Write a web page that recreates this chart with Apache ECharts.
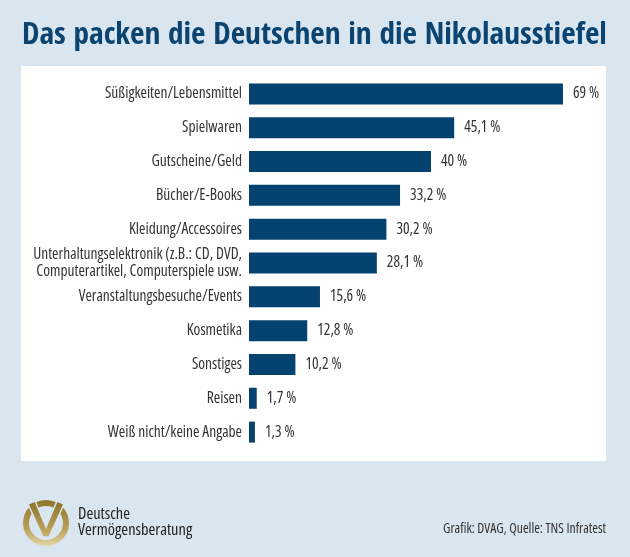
<!DOCTYPE html>
<html>
<head>
<meta charset="utf-8">
<style>html,body{margin:0;padding:0;background:#d9e6f0}#main{width:630px;height:557px}</style>
<script src="https://cdn.jsdelivr.net/npm/echarts@6/dist/echarts.min.js"></script>
</head>
<body>
<div id="main"></div>
<script>
var categories = ['Süßigkeiten/Lebensmittel', 'Spielwaren', 'Gutscheine/Geld', 'Bücher/E-Books', 'Kleidung/Accessoires',
  'Unterhaltungselektronik (z.B.: CD, DVD,\nComputerartikel, Computerspiele usw.', 'Veranstaltungsbesuche/Events',
  'Kosmetika', 'Sonstiges', 'Reisen', 'Weiß nicht/keine Angabe'];
var values = [69, 45.1, 40, 33.2, 30.2, 28.1, 15.6, 12.8, 10.2, 1.7, 1.3];

var sans = '"Open Sans", sans-serif';
var gold = new echarts.graphic.LinearGradient(0, 0, 0, 1, [
  { offset: 0, color: '#8f7528' }, { offset: 0.6, color: '#b79c55' }, { offset: 1, color: '#e4d6a6' }
]);
var goldV = new echarts.graphic.LinearGradient(0, 0, 0, 1, [
  { offset: 0, color: '#8a6f24' }, { offset: 1, color: '#c9b06a' }
]);

var myChart = echarts.init(document.getElementById('main'));
var option = {
  backgroundColor: '#d9e6f0',
  animation: false,
  title: {
    text: 'Das packen die Deutschen in die Nikolausstiefel',
    left: 17, top: 15,
    textStyle: { fontFamily: '"Open Sans Condensed", "Roboto Condensed", sans-serif', fontWeight: 'bold', fontSize: 31.3, color: '#0b4470' }
  },
  grid: { left: 249, top: 77, width: 364, height: 372, outerBoundsMode: 'none' },
  xAxis: { type: 'value', min: 0, max: 80, show: false },
  yAxis: {
    type: 'category', data: categories, inverse: true,
    axisLine: { show: false }, axisTick: { show: false },
    axisLabel: { fontStyle: 'condensed', fontFamily: sans, fontSize: 15.5, color: '#333', margin: 7, align: 'right', lineHeight: 17 }
  },
  series: [{
    type: 'bar', data: values, barWidth: 21, z: 5,
    itemStyle: { color: '#04426f' },
    label: {
      show: true, position: 'right', distance: 10,
      fontStyle: 'condensed', fontFamily: sans, fontSize: 15.5, color: '#333',
      formatter: function (p) { return String(p.value).replace('.', ',') + ' %'; }
    }
  }],
  graphic: [
    { type: 'rect', z: 0, shape: { x: 21, y: 66, width: 585, height: 395 }, style: { fill: '#fff' } },
    { type: 'circle', z: 1, shape: { cx: 46, cy: 523, r: 20 }, style: { fill: 'none', stroke: gold, lineWidth: 6 } },
    { type: 'polygon', z: 2, shape: { points: [[28, 504], [35, 501], [46, 527], [57, 501], [64, 504], [49, 537], [43, 537]] },
      style: { fill: goldV, stroke: '#d9e6f0', lineWidth: 1.5 } },
    { type: 'text', z: 2, style: { x: 78, y: 506, text: 'Deutsche', font: 'condensed 16.4px ' + sans, fill: '#222' } },
    { type: 'text', z: 2, style: { x: 78, y: 522, text: 'Vermögensberatung', font: 'condensed 16.4px ' + sans, fill: '#222' } },
    { type: 'text', z: 2, style: { x: 606, y: 522, align: 'right', text: 'Grafik: DVAG, Quelle: TNS Infratest', font: 'condensed 13.7px ' + sans, fill: '#333' } }
  ]
};
myChart.setOption(option);
</script>
</body>
</html>
